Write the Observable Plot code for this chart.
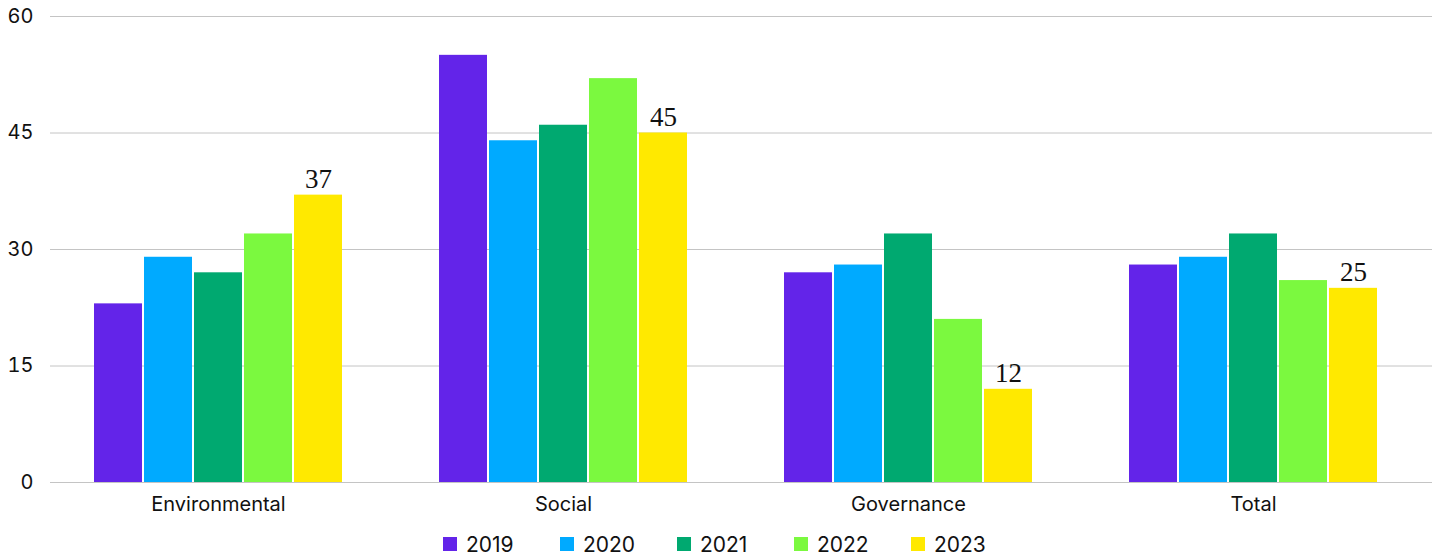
<!DOCTYPE html>
<html>
<head>
<meta charset="utf-8">
<script src="https://cdn.jsdelivr.net/npm/d3@7"></script>
<script src="https://cdn.jsdelivr.net/npm/@observablehq/plot@0.6"></script>
<style>
  body { margin: 0; background: #fff; font-family: Inter, "Noto Sans", sans-serif; }
  #wrap { position: relative; width: 1439px; height: 559px; }
  #legend { position: absolute; top: 531px; left: 443px; display: flex; font-size: 21px; color: #111; }
  .item { width: 117px; display: flex; align-items: center; height: 26px; }
  .sw { width: 14px; height: 14px; margin-right: 9px; }
</style>
</head>
<body>
<div id="wrap"><div id="chart"></div><div id="legend"></div></div>
<script>
const categories = ["Environmental", "Social", "Governance", "Total"];
const years = ["2019", "2020", "2021", "2022", "2023"];
const colors = ["#6324E9", "#00AAFF", "#00A970", "#7BF93F", "#FFE900"];
const v2019 = [23, 55, 27, 28];
const v2020 = [29, 44, 28, 29];
const v2021 = [27, 46, 32, 32];
const v2022 = [32, 52, 21, 26];
const v2023 = [37, 45, 12, 25];
const yTicks = [0, 15, 30, 45, 60];

const series = [v2019, v2020, v2021, v2022, v2023];
const data = [];
years.forEach((yr, i) => categories.forEach((c, j) => data.push({category: c, year: yr, value: series[i][j]})));

const step = 50;
const barMarks = years.map((yr, i) =>
  Plot.barY(data.filter(d => d.year === yr), {x: "category", y: "value", fill: colors[i], dx: (i - 2) * step})
);

const chart = Plot.plot({
  width: 1439,
  height: 530,
  marginTop: 16,
  marginBottom: 48,
  marginLeft: 50,
  marginRight: 7,
  style: {fontFamily: "Inter, 'Noto Sans', sans-serif", background: "#fff"},
  x: {domain: categories, range: [45, 1425], paddingInner: 1 - 48 / 345, paddingOuter: (1 - 48 / 345) / 2, label: null},
  y: {domain: [0, 60], label: null},
  marks: [
    Plot.gridY(yTicks, {stroke: "#c4c4c4", strokeOpacity: 1, strokeWidth: 1}),
    Plot.axisY(yTicks, {tickSize: 0, tickPadding: 17, fontSize: 20, fill: "#111", label: null}),
    Plot.axisX({tickSize: 0, tickPadding: 14, fontSize: 20, fill: "#111", label: null}),
    ...barMarks,
    Plot.text(data.filter(d => d.year === "2023"), {
      x: "category", y: "value", text: d => String(d.value), dx: 2 * step, dy: -7,
      lineAnchor: "bottom", fontSize: 27, fontFamily: "'Liberation Serif', 'DejaVu Serif', serif", fill: "#111"
    })
  ]
});
document.getElementById("chart").appendChild(chart);

const legend = document.getElementById("legend");
years.forEach((yr, i) => {
  const it = document.createElement("div");
  it.className = "item";
  it.innerHTML = `<span class="sw" style="background:${colors[i]}"></span><span>${yr}</span>`;
  legend.appendChild(it);
});
</script>
</body>
</html>
